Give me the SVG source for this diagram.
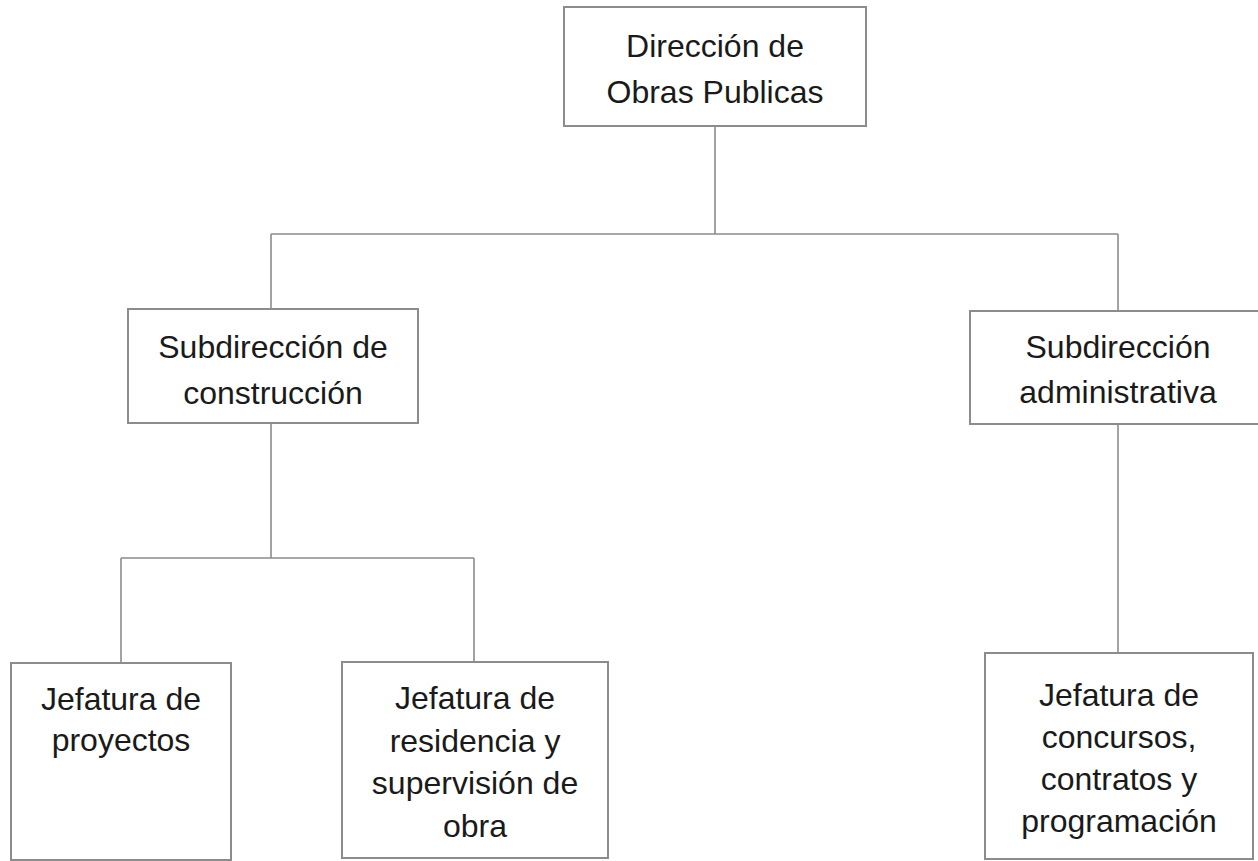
<svg xmlns="http://www.w3.org/2000/svg" width="1258" height="861" viewBox="0 0 1258 861">
<style>
.box{fill:#fff;stroke:#8c8c8c;stroke-width:2}
.ln{fill:none;stroke:#8c8c8c;stroke-width:1.6}
text{font-family:"Liberation Sans",Arial,sans-serif;font-size:32px;fill:#1a1a1a;text-anchor:middle}
</style>
<rect width="1258" height="861" fill="#fff"/>
<g id="connectors">
<path class="ln" d="M715 126V234M271 234H1118M271 234V309M1118 234V311"/>
<path class="ln" d="M271 423V558M121 558H474M121 558V663M474 558V662"/>
<path class="ln" d="M1118 425V653"/>
</g>
<g id="n-direccion">
<rect class="box" x="564" y="7" width="302" height="119"/>
<text x="715" y="57">Dirección de</text>
<text x="715" y="103">Obras Publicas</text>
</g>
<g id="n-sub-construccion">
<rect class="box" x="128" y="309" width="290" height="114"/>
<text x="273" y="358">Subdirección de</text>
<text x="273" y="404">construcción</text>
</g>
<g id="n-sub-administrativa">
<rect class="box" x="970" y="311" width="296" height="113"/>
<text x="1118" y="358">Subdirección</text>
<text x="1118" y="403">administrativa</text>
</g>
<g id="n-jef-proyectos">
<rect class="box" x="11" y="663" width="220" height="197"/>
<text x="121" y="710">Jefatura de</text>
<text x="121" y="751">proyectos</text>
</g>
<g id="n-jef-residencia">
<rect class="box" x="342" y="662" width="266" height="196"/>
<text x="475" y="709">Jefatura de</text>
<text x="475" y="752">residencia y</text>
<text x="475" y="794">supervisión de</text>
<text x="475" y="837">obra</text>
</g>
<g id="n-jef-concursos">
<rect class="box" x="985" y="653" width="268" height="206"/>
<text x="1119" y="706">Jefatura de</text>
<text x="1119" y="748">concursos,</text>
<text x="1119" y="790">contratos y</text>
<text x="1119" y="832">programación</text>
</g>
</svg>
